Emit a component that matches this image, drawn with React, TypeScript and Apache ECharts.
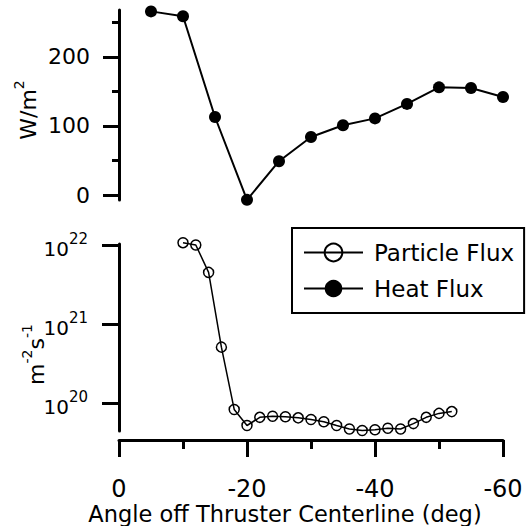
import React, { useEffect, useRef } from 'react';
import * as echarts from 'echarts';

const angleHeat = [-5, -10, -15, -20, -25, -30, -35, -40, -45, -50, -55, -60];
const heatFlux = [266, 259, 113, -7, 49, 84, 101, 111, 132, 156, 155, 142];

const angleParticle = [-10, -12, -14, -16, -18, -20, -22, -24, -26, -28, -30, -32, -34, -36, -38, -40, -42, -44, -46, -48, -50, -52];
const particleFlux = [1.07e22, 1.0e22, 4.5e21, 5.1e20, 8.3e19, 5.2e19, 6.6e19, 6.8e19, 6.7e19, 6.5e19, 6.2e19, 5.8e19, 5.2e19, 4.7e19, 4.5e19, 4.6e19, 4.8e19, 4.7e19, 5.5e19, 6.6e19, 7.4e19, 7.8e19];

const heatTicks = [0, 100, 200];
const heatMinorTicks = [50, 150, 250];
const particleTicks = [1e20, 1e21, 1e22];

const seriesNames = ['Particle Flux', 'Heat Flux'];
const xTitle = 'Angle off Thruster Centerline (deg)';

const FONT = 'DejaVu Sans';
const BLACK = '#000';
const TICK = '#000';

export default function App() {
  const ref = useRef<HTMLDivElement>(null);
  useEffect(() => {
    if (!ref.current) return;
    const chart = echarts.init(ref.current, undefined, { renderer: 'svg' });
    const axisLine = { show: true, lineStyle: { color: BLACK, width: 3 } };
    const option = {
      animation: false,
      backgroundColor: '#fff',
      textStyle: { fontFamily: FONT, color: BLACK },
      grid: [
        { left: 119, right: 24, top: 10, height: 190 },
        { left: 119, right: 24, top: 244, height: 187 },
      ],
      legend: {
        data: seriesNames,
        orient: 'vertical',
        left: 292,
        top: 228,
        itemWidth: 59,
        itemHeight: 22,
        itemGap: 13,
        padding: [13, 10, 13, 11],
        borderColor: BLACK,
        borderWidth: 2,
        borderRadius: 0,
        backgroundColor: '#fff',
        textStyle: { fontSize: 23, fontFamily: FONT, color: BLACK, padding: [0, 0, 0, 6] },
      },
      xAxis: [
        { gridIndex: 0, type: 'value', min: -60, max: 0, inverse: true, show: false },
        {
          gridIndex: 1,
          type: 'value',
          min: -60,
          max: 0,
          interval: 20,
          inverse: true,
          offset: 9,
          axisLine,
          axisTick: { show: true, length: 17, lineStyle: { color: TICK, width: 3 } },
          minorTick: { show: true, splitNumber: 2, length: 9, lineStyle: { color: TICK, width: 3 } },
          axisLabel: { margin: 37, fontSize: 24, fontFamily: FONT, color: BLACK },
          splitLine: { show: false },
          name: xTitle,
          nameLocation: 'middle',
          nameGap: 62,
          nameMoveOverlap: false,
          nameTextStyle: { fontSize: 22.5, fontFamily: FONT, color: BLACK, padding: [0, 52, 0, 0] },
        },
      ],
      yAxis: [
        {
          gridIndex: 0,
          type: 'value',
          position: 'left',
          min: -7.2,
          max: 268,
          axisLine,
          axisTick: { show: true, customValues: heatTicks, length: 16, lineStyle: { color: TICK, width: 3 } },
          axisLabel: { customValues: heatTicks, margin: 29, fontSize: 22, fontFamily: FONT, color: BLACK },
          splitLine: { show: false },
          name: '{n|W/m}{s|2}',
          nameLocation: 'middle',
          nameGap: 80,
          nameMoveOverlap: false,
          nameTextStyle: {
            color: BLACK,
            padding: [0, 10, 0, 0],
            rich: {
              n: { fontSize: 22, fontFamily: FONT, color: BLACK, verticalAlign: 'bottom' },
              s: { fontSize: 14, fontFamily: FONT, color: BLACK, verticalAlign: 'bottom', padding: [0, 0, 13, 0] },
            },
          },
        },
        {
          gridIndex: 0,
          type: 'value',
          position: 'left',
          min: -7.2,
          max: 268,
          axisLine: { show: false },
          axisTick: { show: true, customValues: heatMinorTicks, length: 7, lineStyle: { color: TICK, width: 3 } },
          axisLabel: { show: false },
          splitLine: { show: false },
        },
        {
          gridIndex: 1,
          type: 'log',
          logBase: 10,
          position: 'left',
          min: 4.43e19,
          max: 1.03e22,
          axisLine,
          axisTick: { show: true, customValues: particleTicks, length: 17, lineStyle: { color: TICK, width: 3 } },
          axisLabel: {
            customValues: particleTicks,
            margin: 31,
            formatter: (v: number) => `{n|10}{s|${Math.round(Math.log10(v))}}`,
            rich: {
              n: { fontSize: 20, fontFamily: FONT, color: BLACK, verticalAlign: 'bottom' },
              s: { fontSize: 15, fontFamily: FONT, color: BLACK, verticalAlign: 'bottom', padding: [0, 0, 12, 0] },
            },
          },
          splitLine: { show: false },
          minorTick: { show: false },
          name: '{n|m}{s|-2}{n|s}{s|-1}',
          nameLocation: 'middle',
          nameGap: 72,
          nameMoveOverlap: false,
          nameTextStyle: {
            color: BLACK,
            padding: [0, 34, 0, 0],
            rich: {
              n: { fontSize: 22, fontFamily: FONT, color: BLACK, verticalAlign: 'bottom' },
              s: { fontSize: 14, fontFamily: FONT, color: BLACK, verticalAlign: 'bottom', padding: [0, 0, 13, 0] },
            },
          },
        },
      ],
      series: [
        {
          name: 'Particle Flux',
          type: 'line',
          xAxisIndex: 1,
          yAxisIndex: 2,
          data: angleParticle.map((a, i) => [a, particleFlux[i]]),
          symbol: 'circle',
          symbolSize: 10,
          clip: false,
          itemStyle: { color: 'rgba(255,255,255,0)', borderColor: BLACK, borderWidth: 1.5 },
          lineStyle: { color: BLACK, width: 1.5 },
          z: 3,
        },
        {
          name: 'Heat Flux',
          type: 'line',
          xAxisIndex: 0,
          yAxisIndex: 0,
          data: angleHeat.map((a, i) => [a, heatFlux[i]]),
          symbol: 'circle',
          symbolSize: 12,
          clip: false,
          itemStyle: { color: BLACK, borderColor: BLACK, borderWidth: 0 },
          lineStyle: { color: BLACK, width: 2 },
          z: 3,
        },
      ],
    };
    chart.setOption(option as any);
    return () => chart.dispose();
  }, []);
  return <div ref={ref} style={{ position: 'fixed', left: 0, top: 0, width: 527, height: 526 }} />;
}
